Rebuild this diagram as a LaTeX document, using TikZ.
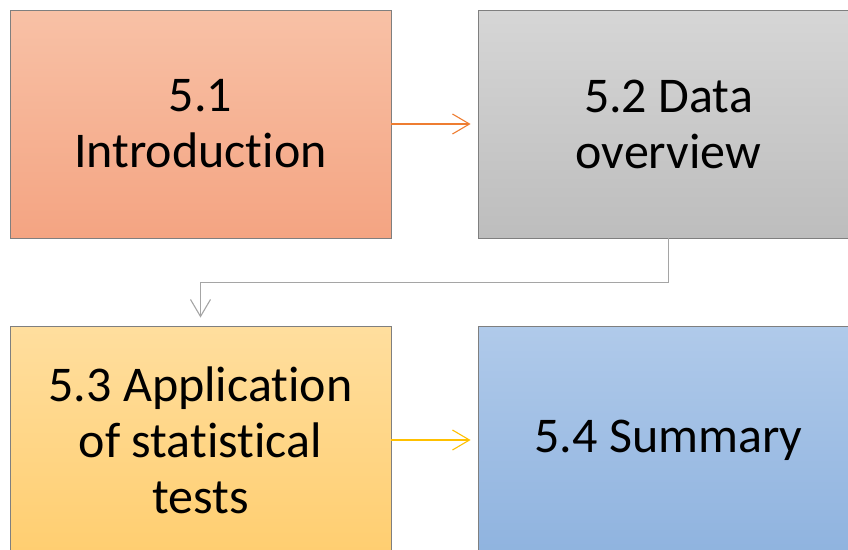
\documentclass[tikz,border=0pt]{standalone}
\usepackage{fontspec}
\setmainfont{Carlito}[Ligatures=NoCommon]
\usetikzlibrary{arrows.meta}
\definecolor{introTop}{HTML}{F8C1A6}
\definecolor{introBot}{HTML}{F4A482}
\definecolor{dataTop}{HTML}{D6D6D6}
\definecolor{dataBot}{HTML}{BDBDBD}
\definecolor{appTop}{HTML}{FFDE9E}
\definecolor{appBot}{HTML}{FFCE70}
\definecolor{sumTop}{HTML}{B0CAEA}
\definecolor{sumBot}{HTML}{8FB3DF}
\definecolor{edgeGray}{HTML}{7F7F7F}
\definecolor{arrOrange}{HTML}{EE7D31}
\definecolor{arrYellow}{HTML}{FFC000}
\definecolor{arrGray}{HTML}{A5A5A5}
\tikzset{
  stagebox/.style={draw=edgeGray, line width=0.9pt, minimum width=381pt,
    minimum height=228pt, inner sep=0pt, align=center,
    font=\fontsize{50}{56}\selectfont, shading=axis, shading angle=0},
  flowarrow/.style={line width=1.1pt, -{Straight Barb[length=17pt,width=20pt,line width=1.1pt]}}
}
\begin{document}
\begin{tikzpicture}[x=1pt,y=-1pt]
\useasboundingbox (0,0) rectangle (848,549);
\clip (0,0) rectangle (848,549);
\node[stagebox, top color=introTop, bottom color=introBot] (intro) at (200.5,124) {5.1\\Introduction};
\node[stagebox, top color=dataTop, bottom color=dataBot] (data) at (668.5,124) {5.2 Data\\overview};
\node[stagebox, top color=appTop, bottom color=appBot] (app) at (200.5,440) {5.3 Application\\of statistical\\tests};
\node[stagebox, top color=sumTop, bottom color=sumBot] (sum) at (668.5,440) {5.4 Summary};
\coordinate (turn) at (0,282);
\draw[flowarrow, arrOrange] (intro.east) -- ([xshift=-7pt]data.west);
\draw[flowarrow, arrYellow] (app.east) -- ([xshift=-7pt]sum.west);
\draw[flowarrow, arrGray, line width=0.9pt] (data.south) |- (turn -| app.north) -- ([yshift=8pt]app.north);
\end{tikzpicture}
\end{document}
